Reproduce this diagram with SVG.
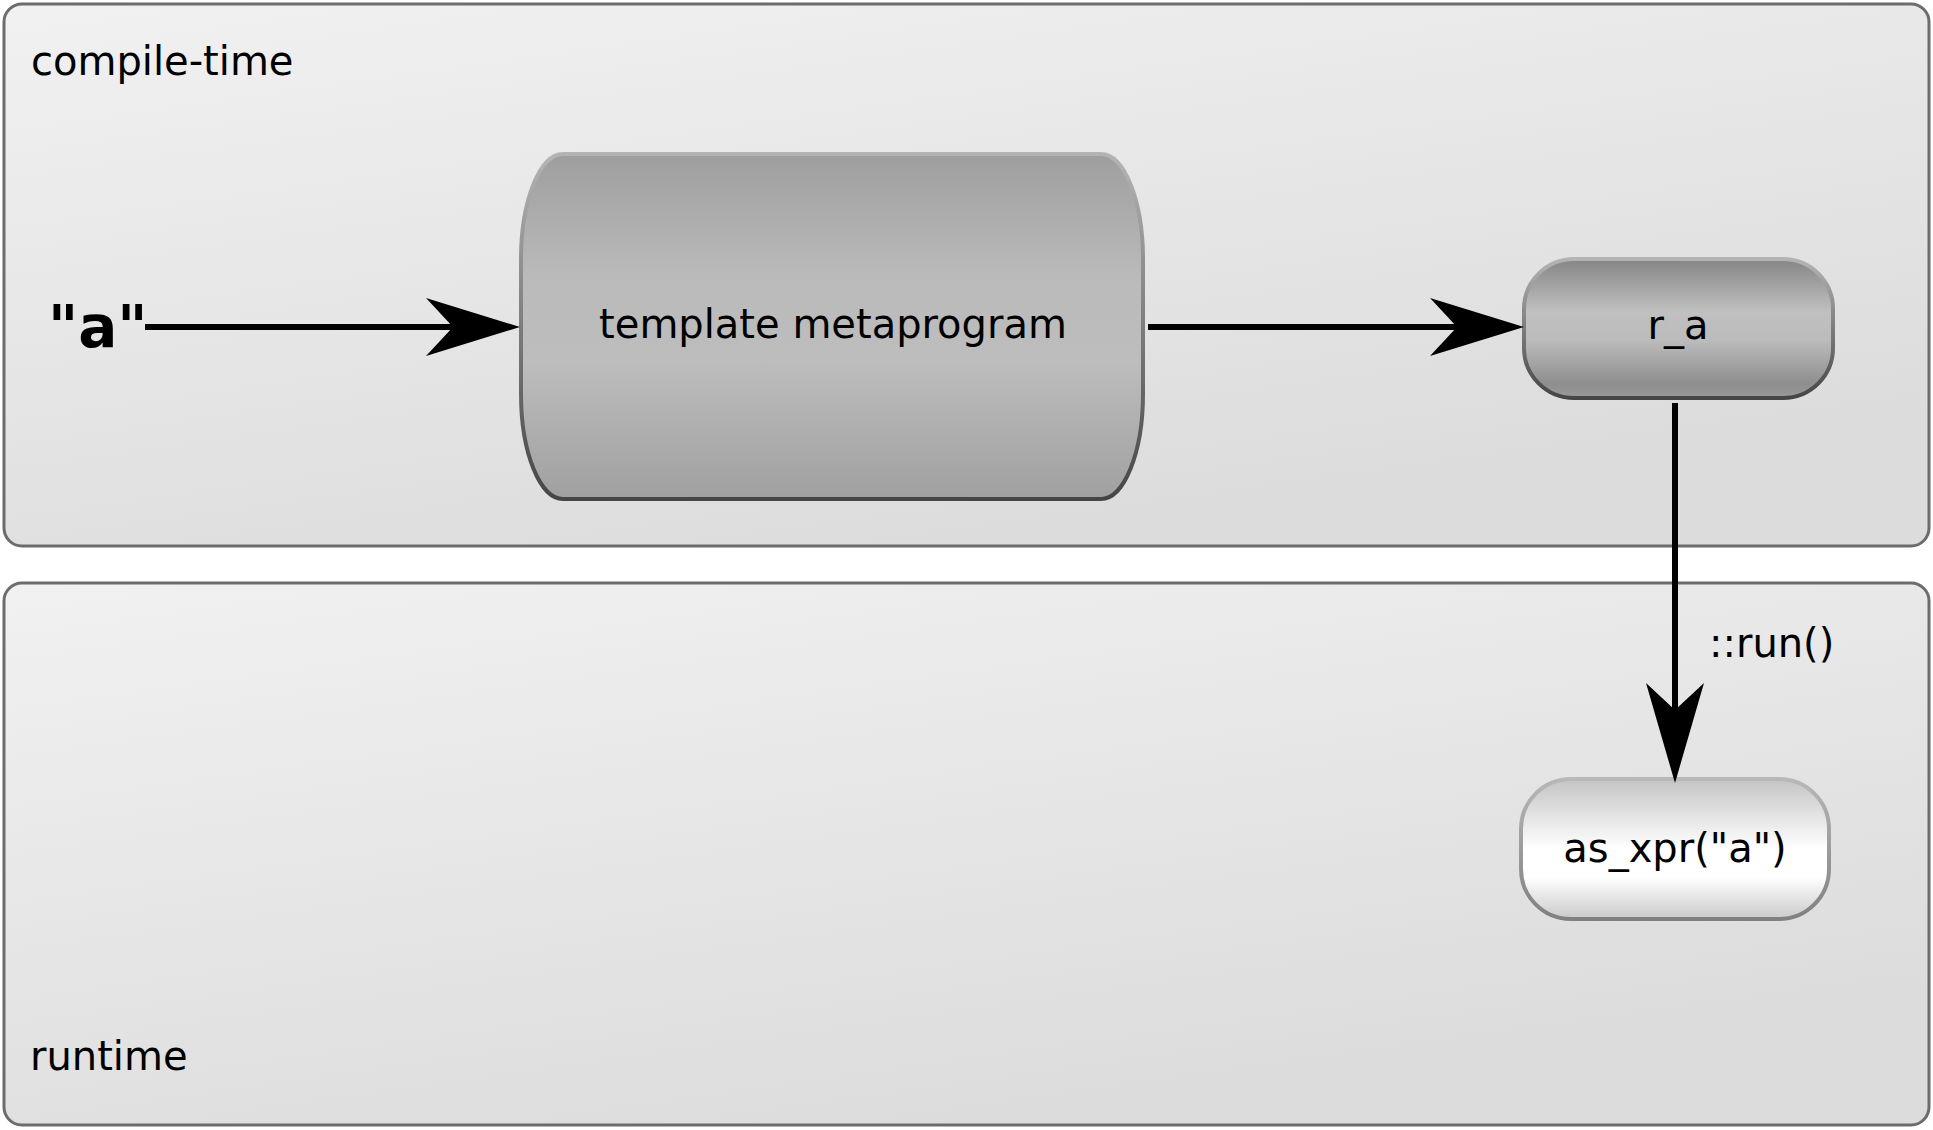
<svg xmlns="http://www.w3.org/2000/svg" width="1933" height="1130" viewBox="0 0 1933 1130">
<defs>
<style>
text{font-family:"DejaVu Sans","Liberation Sans",sans-serif;fill:#000}
.lbl{font-size:40px}
.ctr{text-anchor:middle}
.panel{stroke:#6c6c6c;stroke-width:3}
.edge{fill:none;stroke:#000;stroke-width:6}
</style>
<linearGradient id="gPanel" x1="0" y1="0" x2="0.5" y2="1">
<stop offset="0" stop-color="#f1f1f1"/>
<stop offset="1" stop-color="#dcdcdc"/>
</linearGradient>
<linearGradient id="gTpl" x1="0" y1="0" x2="0" y2="1">
<stop offset="0" stop-color="#9e9e9e"/>
<stop offset="0.35" stop-color="#bababa"/>
<stop offset="0.6" stop-color="#bdbdbd"/>
<stop offset="1" stop-color="#a0a0a0"/>
</linearGradient>
<linearGradient id="gRa" x1="0" y1="0" x2="0" y2="1">
<stop offset="0" stop-color="#858585"/>
<stop offset="0.38" stop-color="#c0c0c0"/>
<stop offset="0.58" stop-color="#bcbcbc"/>
<stop offset="0.9" stop-color="#8e8e8e"/>
<stop offset="1" stop-color="#999999"/>
</linearGradient>
<linearGradient id="gXpr" x1="0" y1="0" x2="0" y2="1">
<stop offset="0" stop-color="#c4c4c4"/>
<stop offset="0.5" stop-color="#ffffff"/>
<stop offset="0.7" stop-color="#ffffff"/>
<stop offset="1" stop-color="#cacaca"/>
</linearGradient>
<linearGradient id="sDark" x1="0" y1="0" x2="0" y2="1">
<stop offset="0" stop-color="#b4b4b4"/>
<stop offset="1" stop-color="#454545"/>
</linearGradient>
<linearGradient id="sLight" x1="0" y1="0" x2="0" y2="1">
<stop offset="0" stop-color="#b8b8b8"/>
<stop offset="1" stop-color="#808080"/>
</linearGradient>
<marker id="arrH" markerUnits="userSpaceOnUse" markerWidth="100" markerHeight="64" refX="27" refY="29" orient="auto" overflow="visible">
<path d="M94,29 L0,0 L27,29 L0,58 Z" fill="#000"/>
</marker>
<marker id="arrV" markerUnits="userSpaceOnUse" markerWidth="104" markerHeight="64" refX="27" refY="29" orient="auto" overflow="visible">
<path d="M100,29 L0,0 L27,29 L0,58 Z" fill="#000"/>
</marker>
</defs>

<g id="compile-time">
<rect class="panel" x="4" y="4" width="1925" height="542" rx="18" ry="18" fill="url(#gPanel)"/>
<text class="lbl" x="31" y="75">compile-time</text>
</g>

<g id="runtime">
<rect class="panel" x="4" y="583" width="1925" height="542" rx="18" ry="18" fill="url(#gPanel)"/>
<text class="lbl" x="30" y="1070">runtime</text>
</g>

<g id="input-a">
<text x="48" y="347" font-size="58" font-weight="bold">"a"</text>
</g>

<g id="template-metaprogram">
<rect x="521" y="154" width="622" height="345" rx="42" ry="105" fill="url(#gTpl)" stroke="url(#sDark)" stroke-width="4"/>
<text class="lbl ctr" x="833" y="338">template metaprogram</text>
</g>

<g id="r_a">
<rect x="1524" y="259" width="309" height="139" rx="50" ry="50" fill="url(#gRa)" stroke="url(#sDark)" stroke-width="4"/>
<text class="lbl ctr" x="1678" y="339">r_a</text>
</g>

<g id="as_xpr">
<rect x="1521" y="779" width="308" height="140" rx="50" ry="50" fill="url(#gXpr)" stroke="url(#sLight)" stroke-width="4"/>
<text class="lbl ctr" x="1675" y="862">as_xpr("a")</text>
</g>

<g id="connectors">
<path class="edge" d="M145,327 L453,327" marker-end="url(#arrH)"/>
<path class="edge" d="M1148,327 L1457,327" marker-end="url(#arrH)"/>
<path class="edge" d="M1675,403 L1675,710" marker-end="url(#arrV)"/>
<text class="lbl" x="1709" y="657">::run()</text>
</g>
</svg>
